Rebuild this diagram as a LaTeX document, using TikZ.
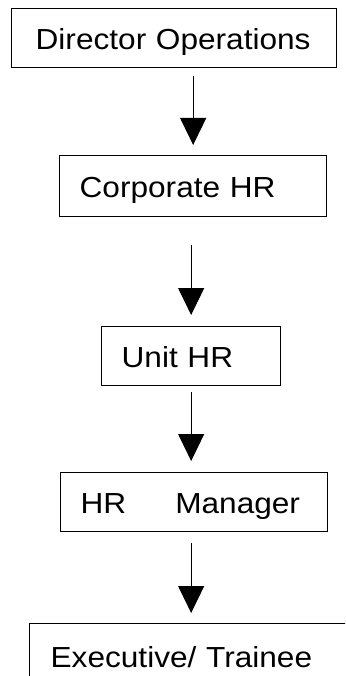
\documentclass[tikz,border=0pt]{standalone}
\usepackage{fontspec}
\setmainfont{Liberation Sans}[FakeStretch=1.09]
\usetikzlibrary{arrows.meta}
\begin{document}
\begin{tikzpicture}[x=1pt,y=-1pt,
  box/.style={draw, line width=1.3pt, rectangle, anchor=north west,
    inner xsep=0pt, inner ysep=0pt, align=left,
    text height=22pt, text depth=0pt,
    font=\fontsize{29}{34}\selectfont},
  flow/.style={-{Triangle[length=27pt,width=26pt]}, line width=1pt}]
  \useasboundingbox (0,0) rectangle (345,676);
  \fill[white] (0,0) rectangle (345,676);
  \clip (0,0) rectangle (345,676);

  % chain of positions, top to bottom
  \node[box, text width=325pt, minimum height=59pt] (b1) at (11,8)
    {\hspace*{24pt}Director Operations};
  \node[box, text width=267pt, minimum height=61pt] (b2) at (59,155)
    {\hspace*{20pt}Corporate HR};
  \node[box, text width=179pt, minimum height=59pt] (b3) at (101,326)
    {\hspace*{20pt}Unit HR};
  \node[box, text width=267pt, minimum height=59pt] (b4) at (60,472)
    {\hspace*{20pt}HR\hspace{49pt}Manager};
  \node[box, text width=331pt, minimum height=66pt] (b5) at (29,623)
    {\hspace*{21pt}Executive/ Trainee};

  % reporting arrows
  \draw[flow, shorten <=8pt, shorten >=10pt] (b1.south -| b2.north) -- (b2.north);
  \draw[flow, shorten <=28pt, shorten >=11pt] (b2.south -| b3.north) -- (b3.north);
  \draw[flow, shorten <=6pt, shorten >=11pt] (b3.south) -- (b4.north -| b3.south);
  \draw[flow, shorten <=11pt, shorten >=10pt] (b4.south -| b3.south) -- (b5.north -| b3.south);
\end{tikzpicture}
\end{document}
